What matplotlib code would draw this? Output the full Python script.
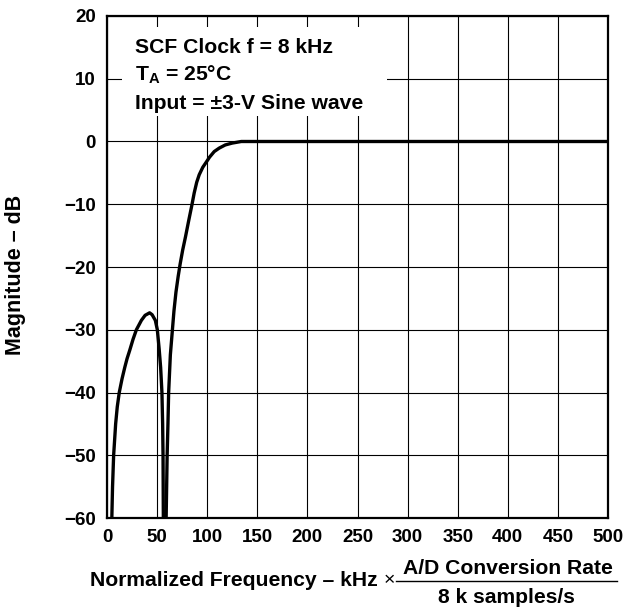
import numpy as np
import matplotlib
matplotlib.use("Agg")
import matplotlib.pyplot as plt
from matplotlib.lines import Line2D
from matplotlib.patches import Rectangle

plt.rcParams['font.family'] = ['Liberation Sans', 'DejaVu Sans']
plt.rcParams['font.weight'] = 'bold'
plt.rcParams['mathtext.fontset'] = 'custom'
plt.rcParams['mathtext.rm'] = 'Liberation Sans:bold'
plt.rcParams['mathtext.it'] = 'Liberation Sans:bold'
plt.rcParams['mathtext.bf'] = 'Liberation Sans:bold'

# --- data (frequency in kHz, magnitude in dB) ---
# first (alias) lobe
lobe1_f = [4.8, 5.5, 6.6, 8.6, 10.2, 12.2, 15.0, 17.7, 20.0, 22.6, 26.0, 29.3, 34.3, 38.0,
           42.5, 45.0, 48.2, 50.2, 52.0, 53.5, 54.8, 55.5, 55.9, 56.2]
lobe1_db = [-60, -55, -50, -45, -42.3, -40, -37.8, -36, -34.6, -33.3, -31.5, -30, -28.5, -27.7,
            -27.3, -27.6, -28.5, -30, -33, -36, -40, -45, -50, -60]

# passband section
pass_f = [59.0, 59.5, 60.0, 60.8, 61.5, 63.2, 65.0, 66.8, 68.8, 71.0, 73.0, 75.5, 78.3, 81.4,
          84.6, 87.0, 89.5, 92.0, 95.6, 99.0, 102.3, 107.0, 112.0, 118.0, 125.0, 134.0, 500.0]
pass_db = [-60, -55, -50, -45, -40, -34, -30.5, -27, -24, -21.5, -19.5, -17.3, -15.2, -12.7,
           -10.2, -8.2, -6.5, -5.3, -4.1, -3.3, -2.5, -1.6, -1.05, -0.55, -0.25, 0, 0]

x_ticks = np.arange(0, 501, 50)
y_ticks = np.arange(-60, 21, 10)

W, H = 627.0, 615.0
fig = plt.figure(figsize=(W / 100, H / 100), dpi=100)
ax = fig.add_axes([0.1707, 0.1577, 0.7990, 0.8163])

ax.plot(lobe1_f, lobe1_db, color="black", lw=2.4, solid_joinstyle="round",
        solid_capstyle="butt", zorder=4)
ax.plot(pass_f, pass_db, color="black", lw=2.4, solid_joinstyle="round",
        solid_capstyle="butt", zorder=4)

ax.set_xlim(0, 500)
ax.set_ylim(-60, 20)
ax.set_xticks(x_ticks)
ax.set_yticks(y_ticks)
ax.grid(True, color="black", lw=0.8, zorder=1)
ax.set_axisbelow(True)
ax.tick_params(length=0, labelsize=13.5, pad=8)
for lab in ax.get_xticklabels() + ax.get_yticklabels():
    lab.set_fontweight("bold")
for sp in ax.spines.values():
    sp.set_linewidth(1.6)

# white panel behind the condition text
ax.add_patch(Rectangle((15, 4.0), 264, 14.3, facecolor="white", edgecolor="none", zorder=2))
ax.text(27.6, 14.15, "SCF Clock f = 8 kHz", fontsize=15.2, fontweight="bold", va="baseline", zorder=3)
ax.text(27.6, 9.68, "T$_{\\rm A}$ = 25°C", fontsize=15.2, fontweight="bold", va="baseline", zorder=3)
ax.text(27.6, 5.22, "Input = ±3-V Sine wave", fontsize=15.2, fontweight="bold", va="baseline", zorder=3)

fig.text(16 / W, 1 - 275 / H, "Magnitude – dB", rotation=90, ha="center", va="center",
         fontsize=15.5, fontweight="bold")

# x label with fraction
fig.text(378 / W, 1 - 580 / H, "Normalized Frequency – kHz", ha="right", va="center",
         fontsize=15.2, fontweight="bold")
fig.text(389 / W, 1 - 581 / H, "×", ha="center", va="center", fontsize=14, fontweight="normal")
fig.add_artist(Line2D([396 / W, 617 / W], [1 - 581 / H, 1 - 581 / H], color="black", lw=1.0))
fig.text(507.5 / W, 1 - 574 / H, "A/D Conversion Rate", ha="center", va="baseline",
         fontsize=15.2, fontweight="bold")
fig.text(506.5 / W, 1 - 603 / H, "8 k samples/s", ha="center", va="baseline",
         fontsize=15.2, fontweight="bold")

plt.savefig("out.png", dpi=100)
plt.close()
